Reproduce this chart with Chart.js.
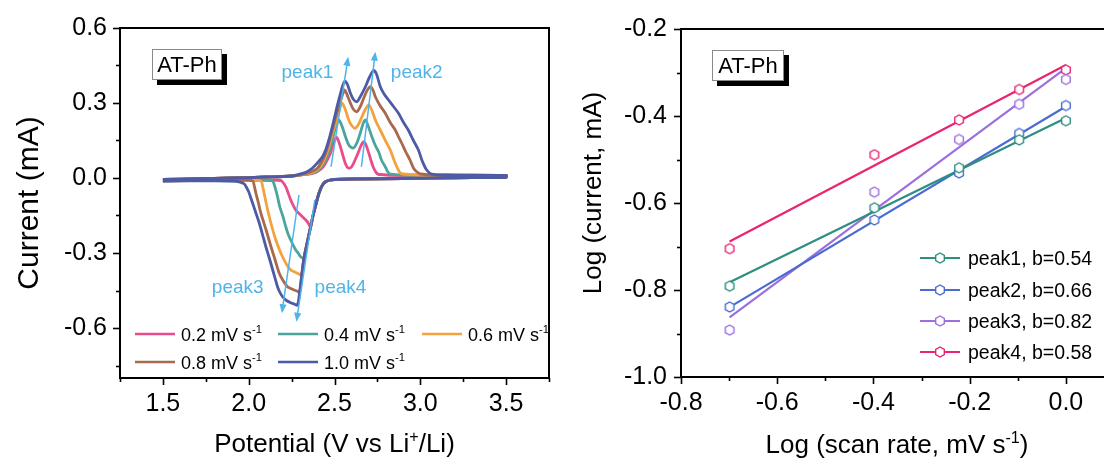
<!DOCTYPE html>
<html>
<head>
<meta charset="utf-8">
<script src="https://cdn.jsdelivr.net/npm/chart.js@4.4.1/dist/chart.umd.min.js"></script>
<style>
  html, body { margin: 0; padding: 0; background: #fff; width: 1104px; height: 460px; overflow: hidden; }
  #cvBox { position: absolute; left: 0; top: 0; }
  #fitBox { position: absolute; left: 560px; top: 0; }
</style>
</head>
<body>
<canvas id="cvBox" width="560" height="460"></canvas>
<canvas id="fitBox" width="580" height="460"></canvas>
<script>
// ---------- Cyclic voltammetry (left panel) ----------
const cvRates = ['0.2', '0.4', '0.6', '0.8', '1.0'];          // mV s-1
const cvColors = ['#ea4c8b', '#4aa59c', '#f2a23f', '#a8694f', '#4d5aa6'];

// Each loop: anodic sweep 1.5 -> 3.5 V, then cathodic sweep 3.5 -> 1.5 V  [V, mA]
const cv02 = [
  [1.50,-0.006],[1.70,-0.003],[1.90,0.000],[2.10,0.004],[2.25,0.008],[2.30,0.012],[2.36,0.017],
  [2.39,0.022],[2.42,0.035],[2.438,0.048],[2.46,0.075],[2.477,0.100],[2.495,0.140],[2.51,0.163],
  [2.525,0.145],[2.545,0.100],[2.565,0.055],[2.58,0.040],[2.60,0.045],[2.63,0.088],[2.655,0.130],
  [2.67,0.145],[2.685,0.130],[2.70,0.099],[2.715,0.065],[2.728,0.040],[2.745,0.020],[2.76,0.014],
  [2.90,0.010],[3.20,0.010],[3.50,0.010],
  [3.50,0.003],[3.20,0.001],[2.90,-0.002],[2.60,-0.004],[2.50,-0.006],[2.47,-0.009],[2.45,-0.014],
  [2.43,-0.028],[2.41,-0.060],[2.39,-0.110],[2.375,-0.150],[2.361,-0.195],[2.342,-0.175],
  [2.313,-0.155],[2.29,-0.140],[2.274,-0.128],[2.26,-0.110],[2.245,-0.088],[2.23,-0.060],
  [2.216,-0.035],[2.20,-0.018],[2.187,-0.010],[2.10,-0.008],[1.90,-0.009],[1.70,-0.010],[1.50,-0.011]
];
const cv04 = [
  [1.50,-0.006],[1.70,-0.003],[1.90,0.000],[2.10,0.004],[2.25,0.008],[2.30,0.012],[2.36,0.018],
  [2.40,0.027],[2.43,0.050],[2.448,0.072],[2.47,0.110],[2.487,0.152],[2.505,0.200],[2.525,0.232],
  [2.545,0.205],[2.564,0.165],[2.585,0.130],[2.61,0.120],[2.63,0.140],[2.65,0.179],[2.668,0.220],
  [2.68,0.232],[2.695,0.210],[2.718,0.165],[2.738,0.130],[2.757,0.105],[2.775,0.070],[2.796,0.045],
  [2.81,0.025],[2.825,0.016],[2.90,0.012],[3.20,0.010],[3.50,0.010],
  [3.50,0.003],[3.20,0.001],[2.90,-0.002],[2.60,-0.004],[2.50,-0.006],[2.47,-0.009],[2.45,-0.014],
  [2.43,-0.028],[2.41,-0.060],[2.39,-0.110],[2.375,-0.150],[2.361,-0.195],[2.342,-0.255],
  [2.322,-0.321],[2.303,-0.315],[2.288,-0.300],[2.274,-0.288],[2.26,-0.270],[2.245,-0.248],
  [2.23,-0.225],[2.216,-0.195],[2.20,-0.155],[2.181,-0.115],[2.168,-0.075],[2.158,-0.048],
  [2.148,-0.025],[2.139,-0.012],[2.10,-0.009],[1.90,-0.009],[1.70,-0.010],[1.50,-0.011]
];
const cv06 = [
  [1.50,-0.006],[1.70,-0.003],[1.90,0.000],[2.10,0.004],[2.25,0.008],[2.30,0.012],[2.35,0.018],
  [2.38,0.025],[2.41,0.040],[2.43,0.059],[2.45,0.090],[2.467,0.125],[2.487,0.175],[2.506,0.219],
  [2.525,0.265],[2.545,0.299],[2.565,0.270],[2.583,0.232],[2.60,0.210],[2.62,0.199],[2.64,0.215],
  [2.66,0.245],[2.68,0.275],[2.70,0.292],[2.718,0.270],[2.738,0.232],[2.757,0.205],[2.776,0.179],
  [2.80,0.145],[2.825,0.112],[2.845,0.075],[2.863,0.045],[2.878,0.025],[2.892,0.017],[3.00,0.012],
  [3.50,0.010],
  [3.50,0.003],[3.20,0.001],[2.90,-0.002],[2.60,-0.004],[2.50,-0.006],[2.47,-0.009],[2.45,-0.014],
  [2.43,-0.028],[2.41,-0.060],[2.39,-0.110],[2.375,-0.150],[2.361,-0.195],[2.342,-0.255],
  [2.322,-0.321],[2.309,-0.388],[2.295,-0.385],[2.284,-0.381],[2.265,-0.375],[2.245,-0.368],
  [2.22,-0.345],[2.197,-0.315],[2.178,-0.285],[2.158,-0.248],[2.135,-0.195],[2.115,-0.141],
  [2.10,-0.095],[2.09,-0.061],[2.08,-0.030],[2.071,-0.012],[2.00,-0.009],[1.80,-0.010],[1.50,-0.011]
];
const cv08 = [
  [1.50,-0.006],[1.70,-0.003],[1.90,0.000],[2.10,0.004],[2.25,0.008],[2.30,0.013],[2.33,0.017],
  [2.37,0.027],[2.40,0.039],[2.425,0.065],[2.448,0.099],[2.468,0.145],[2.487,0.192],[2.505,0.240],
  [2.525,0.285],[2.545,0.330],[2.56,0.352],[2.578,0.325],[2.593,0.299],[2.61,0.275],[2.63,0.265],
  [2.65,0.285],[2.67,0.319],[2.69,0.350],[2.71,0.365],[2.725,0.350],[2.738,0.325],[2.765,0.290],
  [2.796,0.259],[2.825,0.222],[2.854,0.192],[2.873,0.165],[2.892,0.139],[2.915,0.105],[2.94,0.072],
  [2.96,0.040],[2.979,0.025],[3.00,0.016],[3.10,0.012],[3.50,0.010],
  [3.50,0.003],[3.20,0.001],[2.90,-0.002],[2.60,-0.004],[2.50,-0.006],[2.47,-0.009],[2.45,-0.014],
  [2.43,-0.028],[2.41,-0.060],[2.39,-0.110],[2.375,-0.150],[2.361,-0.195],[2.342,-0.255],
  [2.322,-0.321],[2.309,-0.388],[2.297,-0.455],[2.28,-0.452],[2.264,-0.448],[2.245,-0.442],
  [2.226,-0.435],[2.20,-0.410],[2.178,-0.381],[2.155,-0.330],[2.13,-0.275],[2.10,-0.205],
  [2.071,-0.141],[2.055,-0.095],[2.042,-0.061],[2.032,-0.030],[2.023,-0.012],[1.95,-0.009],
  [1.80,-0.010],[1.50,-0.011]
];
const cv10 = [
  [1.50,-0.006],[1.70,-0.003],[1.90,0.000],[2.10,0.004],[2.25,0.008],[2.293,0.015],[2.33,0.022],
  [2.37,0.039],[2.40,0.060],[2.43,0.085],[2.45,0.115],[2.467,0.152],[2.487,0.205],[2.506,0.259],
  [2.52,0.300],[2.535,0.339],[2.548,0.370],[2.56,0.387],[2.575,0.375],[2.593,0.339],[2.61,0.315],
  [2.63,0.305],[2.65,0.325],[2.68,0.365],[2.705,0.405],[2.728,0.430],[2.745,0.415],[2.767,0.365],
  [2.79,0.335],[2.815,0.312],[2.845,0.285],[2.873,0.259],[2.90,0.225],[2.93,0.192],[2.96,0.150],
  [2.989,0.112],[3.01,0.070],[3.037,0.032],[3.066,0.016],[3.15,0.012],[3.50,0.010],
  [3.50,0.003],[3.20,0.001],[2.90,-0.002],[2.60,-0.004],[2.50,-0.006],[2.47,-0.009],[2.45,-0.014],
  [2.43,-0.028],[2.41,-0.060],[2.39,-0.110],[2.375,-0.150],[2.361,-0.195],[2.342,-0.255],
  [2.322,-0.321],[2.309,-0.388],[2.297,-0.455],[2.284,-0.508],[2.265,-0.504],[2.245,-0.499],
  [2.22,-0.490],[2.197,-0.475],[2.18,-0.455],[2.168,-0.435],[2.14,-0.368],[2.12,-0.320],
  [2.10,-0.275],[2.08,-0.225],[2.062,-0.181],[2.042,-0.140],[2.023,-0.101],[2.01,-0.075],
  [2.00,-0.055],[1.985,-0.035],[1.975,-0.024],[1.95,-0.017],[1.926,-0.013],[1.80,-0.011],[1.50,-0.012]
];
const cvLoops = [cv02, cv04, cv06, cv08, cv10];

// Peak-shift arrows [V, mA] and their captions
const peakNames = ['peak1', 'peak2', 'peak3', 'peak4'];
const peakArrowTail = [[2.48, 0.045], [2.657, 0.045], [2.293, -0.068], [2.385, -0.088]];
const peakArrowHead = [[2.58, 0.485], [2.738, 0.505], [2.193, -0.541], [2.278, -0.575]];
const peakCaptionAt = [[2.342, 0.419], [2.979, 0.419], [1.936, -0.441], [2.535, -0.441]];

const cvPotentialLabels = ['1.5', '2.0', '2.5', '3.0', '3.5'];
const cvPotentialMinor = [1.25, 1.75, 2.25, 2.75, 3.25, 3.75];
const cvCurrentLabels = ['-0.6', '-0.3', '0.0', '0.3', '0.6'];
const cvCurrentMinor = [-0.75, -0.45, -0.15, 0.15, 0.45];

// ---------- log(i) vs log(v) (right panel) ----------
const logScanRate = [-0.699, -0.398, -0.222, -0.097, 0.0];
const logPeak1 = [-0.791, -0.611, -0.519, -0.455, -0.411];
const logPeak2 = [-0.839, -0.639, -0.531, -0.440, -0.376];
const logPeak3 = [-0.892, -0.575, -0.454, -0.373, -0.316];
const logPeak4 = [-0.705, -0.489, -0.409, -0.339, -0.294];
const peakSlopes = [0.54, 0.66, 0.82, 0.58];
const peakColors = ['#2e8e80', '#4a6bd2', '#9c6fde', '#e92470'];

const fitXLabels = ['-0.8', '-0.6', '-0.4', '-0.2', '0.0'];
const fitXMinor = [-0.7, -0.5, -0.3, -0.1, 0.1];
const fitYLabels = ['-1.0', '-0.8', '-0.6', '-0.4', '-0.2'];
const fitYMinor = [-0.9, -0.7, -0.5, -0.3];

const FONT = '"Liberation Sans", Arial, Helvetica, sans-serif';
const ARROW_BLUE = '#4fb4ea';
const INK = '#000';

// ---------- helpers ----------
function tickSet(labels, minor) {
  const t = labels.map(l => ({ value: parseFloat(l), label: l, isMajor: true }))
    .concat(minor.map(v => ({ value: v, label: '', isMajor: false })));
  return t.sort((a, b) => a.value - b.value);
}

function axisOpts(min, max, labels, minor, extent, pad, horizontal) {
  return {
    type: 'linear', min, max,
    afterBuildTicks(scale) { scale.ticks = tickSet(labels, minor); },
    afterFit(scale) { if (horizontal) scale.height = extent; else scale.width = extent; },
    grid: { display: false, drawTicks: false },
    border: { display: false },
    ticks: {
      autoSkip: false, maxRotation: 0, minRotation: 0, padding: pad, color: INK,
      font: { family: FONT, size: 25 },
      callback: (v, i, ticks) => ticks[i].label || ''
    }
  };
}

function parseRich(s) {
  const parts = []; const re = /\^\{([^}]*)\}/g; let last = 0, m;
  while ((m = re.exec(s))) {
    if (m.index > last) parts.push({ t: s.slice(last, m.index), sup: false });
    parts.push({ t: m[1], sup: true });
    last = re.lastIndex;
  }
  if (last < s.length) parts.push({ t: s.slice(last), sup: false });
  return parts;
}

function drawRich(ctx, s, x, y, size, align, color) {
  const parts = parseRich(s);
  const supSize = size * 0.62;
  let w = 0;
  parts.forEach(p => { ctx.font = (p.sup ? supSize : size) + 'px ' + FONT; p.w = ctx.measureText(p.t).width; w += p.w; });
  let cx = align === 'center' ? x - w / 2 : (align === 'right' ? x - w : x);
  ctx.textAlign = 'left'; ctx.textBaseline = 'alphabetic'; ctx.fillStyle = color || INK;
  parts.forEach(p => {
    ctx.font = (p.sup ? supSize : size) + 'px ' + FONT;
    ctx.fillText(p.t, cx, p.sup ? y - size * 0.4 : y);
    cx += p.w;
  });
}

function drawFrameAndTicks(ctx, a, xs, ys) {
  ctx.save();
  ctx.strokeStyle = INK; ctx.lineWidth = 2; ctx.lineCap = 'butt';
  ctx.strokeRect(a.left, a.top, a.right - a.left, a.bottom - a.top);
  ctx.lineWidth = 1.6;
  xs.ticks.forEach(t => {
    const px = Math.round(xs.getPixelForValue(t.value)) + 0.5;
    ctx.beginPath(); ctx.moveTo(px, a.bottom); ctx.lineTo(px, a.bottom + (t.isMajor ? 7 : 4)); ctx.stroke();
  });
  ys.ticks.forEach(t => {
    const py = Math.round(ys.getPixelForValue(t.value)) + 0.5;
    ctx.beginPath(); ctx.moveTo(a.left, py); ctx.lineTo(a.left - (t.isMajor ? 7 : 4), py); ctx.stroke();
  });
  ctx.restore();
}

function drawTag(ctx, a, dx, w) {
  // "AT-Ph" sample tag with a drop shadow
  const x = a.left + dx, y = a.top + 21, h = 31;
  ctx.save();
  ctx.fillStyle = '#000';
  ctx.fillRect(x + 5, y + 5, w, h);
  ctx.fillStyle = '#fff';
  ctx.fillRect(x, y, w, h);
  ctx.strokeStyle = '#8a8a8a'; ctx.lineWidth = 1;
  ctx.strokeRect(x + 0.5, y + 0.5, w - 1, h - 1);
  ctx.fillStyle = '#000'; ctx.font = '22px ' + FONT; ctx.textAlign = 'center'; ctx.textBaseline = 'middle';
  ctx.fillText('AT-Ph', x + w / 2, y + h / 2 + 1);
  ctx.restore();
}

function drawVerticalTitle(ctx, text, cx, cy, size) {
  ctx.save();
  ctx.translate(cx, cy);
  ctx.rotate(-Math.PI / 2);
  ctx.fillStyle = INK; ctx.font = size + 'px ' + FONT; ctx.textAlign = 'center'; ctx.textBaseline = 'middle';
  ctx.fillText(text, 0, 0);
  ctx.restore();
}

function hexMarker(color) {
  const c = document.createElement('canvas');
  c.width = 14; c.height = 14;
  const g = c.getContext('2d');
  g.beginPath();
  for (let k = 0; k < 6; k++) {
    const ang = -Math.PI / 2 + k * Math.PI / 3;
    const px = 7 + 5 * Math.cos(ang), py = 7 + 5 * Math.sin(ang);
    if (k === 0) g.moveTo(px, py); else g.lineTo(px, py);
  }
  g.closePath();
  g.fillStyle = '#fff'; g.fill();
  g.strokeStyle = color; g.lineWidth = 1.4; g.stroke();
  return c;
}

// ---------- left chart ----------
const cvDecor = {
  id: 'cvDecor',
  afterDatasetsDraw(chart) {
    const { ctx, scales: { x, y } } = chart;
    ctx.save();
    ctx.strokeStyle = ARROW_BLUE; ctx.fillStyle = ARROW_BLUE; ctx.lineWidth = 1.5;
    peakArrowTail.forEach((tail, i) => {
      const x0 = x.getPixelForValue(tail[0]), y0 = y.getPixelForValue(tail[1]);
      const x1 = x.getPixelForValue(peakArrowHead[i][0]), y1 = y.getPixelForValue(peakArrowHead[i][1]);
      const ang = Math.atan2(y1 - y0, x1 - x0);
      const L = 9, W = 3.6;
      ctx.beginPath(); ctx.moveTo(x0, y0);
      ctx.lineTo(x1 - (L - 2) * Math.cos(ang), y1 - (L - 2) * Math.sin(ang)); ctx.stroke();
      ctx.beginPath();
      ctx.moveTo(x1, y1);
      ctx.lineTo(x1 - L * Math.cos(ang) + W * Math.sin(ang), y1 - L * Math.sin(ang) - W * Math.cos(ang));
      ctx.lineTo(x1 - L * Math.cos(ang) - W * Math.sin(ang), y1 - L * Math.sin(ang) + W * Math.cos(ang));
      ctx.closePath(); ctx.fill();
    });
    ctx.font = '19px ' + FONT; ctx.textAlign = 'center'; ctx.textBaseline = 'middle';
    peakCaptionAt.forEach((p, i) => ctx.fillText(peakNames[i], x.getPixelForValue(p[0]), y.getPixelForValue(p[1])));
    ctx.restore();
  },
  afterDraw(chart) {
    const { ctx, chartArea: a, scales: { x, y } } = chart;
    drawFrameAndTicks(ctx, a, x, y);
    drawTag(ctx, a, 32, 70);
    // legend, three columns
    const colX = [15, 158, 302], rowY = [-44, -16];
    ctx.save();
    cvRates.forEach((r, i) => {
      const lx = a.left + colX[i % 3], ly = a.bottom + rowY[Math.floor(i / 3)];
      ctx.strokeStyle = cvColors[i]; ctx.lineWidth = 2.6;
      ctx.beginPath(); ctx.moveTo(lx, ly); ctx.lineTo(lx + 40, ly); ctx.stroke();
      drawRich(ctx, r + ' mV s^{-1}', lx + 46, ly + 6.5, 18, 'left', INK);
    });
    ctx.restore();
    // axis titles
    drawRich(ctx, 'Potential (V vs Li^{+}/Li)', (a.left + a.right) / 2, a.bottom + 74, 26, 'center', INK);
    drawVerticalTitle(ctx, 'Current (mA)', a.left - 90, (a.top + a.bottom) / 2, 30);
  }
};

new Chart(document.getElementById('cvBox'), {
  type: 'scatter',
  data: {
    datasets: cvLoops.map((loop, i) => ({
      label: cvRates[i] + ' mV s-1',
      data: loop.map(p => ({ x: p[0], y: p[1] })),
      showLine: true, borderColor: cvColors[i], borderWidth: 2.8,
      pointRadius: 0, tension: 0.3, order: 4 - i
    }))
  },
  options: {
    responsive: false, animation: false, devicePixelRatio: 1,
    layout: { padding: { left: 0, right: 8, top: 28, bottom: 0 } },
    plugins: { legend: { display: false }, tooltip: { enabled: false } },
    scales: {
      x: axisOpts(1.25, 3.75, cvPotentialLabels, cvPotentialMinor, 82, 11, true),
      y: axisOpts(-0.8, 0.6, cvCurrentLabels, cvCurrentMinor, 120, 13, false)
    }
  },
  plugins: [cvDecor]
});

// ---------- right chart ----------
const logPeaks = [logPeak1, logPeak2, logPeak3, logPeak4];
const meanX = logScanRate.reduce((s, v) => s + v, 0) / logScanRate.length;
const fitLines = logPeaks.map((ys, i) => {
  const meanY = ys.reduce((s, v) => s + v, 0) / ys.length;
  const icpt = meanY - peakSlopes[i] * meanX;
  const x0 = logScanRate[0], x1 = logScanRate[logScanRate.length - 1];
  return [{ x: x0, y: icpt + peakSlopes[i] * x0 }, { x: x1, y: icpt + peakSlopes[i] * x1 }];
});
const hexes = peakColors.map(hexMarker);

const fitDecor = {
  id: 'fitDecor',
  afterDraw(chart) {
    const { ctx, chartArea: a, scales: { x, y } } = chart;
    drawFrameAndTicks(ctx, a, x, y);
    drawTag(ctx, a, 31, 72);
    ctx.save();
    const rowY = [-119, -87, -56, -25];
    peakNames.forEach((n, i) => {
      const lx = a.left + 239, ly = a.bottom + rowY[i];
      ctx.strokeStyle = peakColors[i]; ctx.lineWidth = 2.2;
      ctx.beginPath(); ctx.moveTo(lx, ly); ctx.lineTo(lx + 40, ly); ctx.stroke();
      ctx.drawImage(hexes[i], lx + 20 - 7, ly - 7);
      drawRich(ctx, n + ', b=' + peakSlopes[i].toFixed(2), lx + 48, ly + 7, 19.5, 'left', INK);
    });
    ctx.restore();
    drawRich(ctx, 'Log (scan rate, mV s^{-1})', a.left + 216, a.bottom + 76, 26, 'center', INK);
    drawVerticalTitle(ctx, 'Log (current, mA)', a.left - 87, (a.top + a.bottom) / 2 - 10, 26);
  }
};

new Chart(document.getElementById('fitBox'), {
  type: 'scatter',
  data: {
    datasets: logPeaks.map((ys, i) => ({
      label: peakNames[i],
      data: ys.map((v, k) => ({ x: logScanRate[k], y: v })),
      pointStyle: hexes[i], pointRadius: 6, showLine: false, order: 0
    })).concat(fitLines.map((pts, i) => ({
      label: peakNames[i] + ' fit',
      data: pts, showLine: true, borderColor: peakColors[i], borderWidth: 2.2,
      pointRadius: 0, order: 1
    })))
  },
  options: {
    responsive: false, animation: false, devicePixelRatio: 1,
    layout: { padding: { left: 0, right: 26, top: 28, bottom: 0 } },
    plugins: { legend: { display: false }, tooltip: { enabled: false } },
    scales: {
      x: axisOpts(-0.8, 0.1, fitXLabels, fitXMinor, 83, 11, true),
      y: axisOpts(-1.0, -0.2, fitYLabels, fitYMinor, 121, 14, false)
    }
  },
  plugins: [fitDecor]
});
</script>
</body>
</html>
